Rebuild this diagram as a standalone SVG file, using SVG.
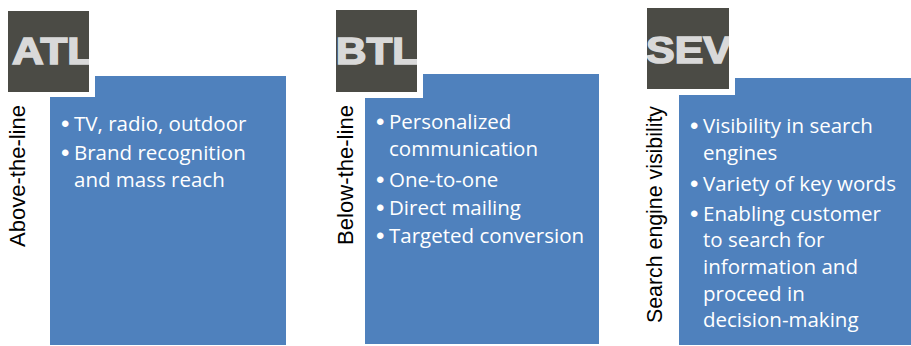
<svg xmlns="http://www.w3.org/2000/svg" width="911" height="346" viewBox="0 0 911 346">
  <style>
    .panel { fill: #4f81bd; }
    .halo { fill: #ffffff; }
    .badge { fill: #4b4b45; }
    .badge-text { font-family: "Liberation Sans", Arial, sans-serif; font-weight: bold; font-size: 37px; fill: #d9d9d9; stroke: #d9d9d9; stroke-width: 1.6px; stroke-linejoin: miter; }
    .side { font-family: "Liberation Sans", Arial, sans-serif; font-size: 21.5px; fill: #000000; text-anchor: end; }
    .item { font-family: "Open Sans", "Noto Sans", sans-serif; font-size: 20.5px; fill: #ffffff; }
    .dot { font-family: "Liberation Sans", Arial, sans-serif; font-size: 24px; fill: #ffffff; }
  </style>
  <defs>
    <clipPath id="clip-atl"><rect x="8" y="11" width="81" height="81"/></clipPath>
    <clipPath id="clip-btl"><rect x="336" y="10" width="81" height="82"/></clipPath>
    <clipPath id="clip-sev"><rect x="647" y="8" width="82" height="81"/></clipPath>
  </defs>

  <rect width="911" height="346" fill="#ffffff"/>

  <!-- Above-the-line -->
  <g id="atl">
    <rect class="panel" x="50" y="76" width="236" height="269"/>
    <rect class="halo" x="2" y="5" width="93" height="92"/>
    <rect class="badge" x="8" y="11" width="81" height="81"/>
    <text class="badge-text" x="12" y="64" textLength="82" lengthAdjust="spacingAndGlyphs" clip-path="url(#clip-atl)">ATL</text>
    <text class="side" transform="translate(25,105) rotate(-90)" textLength="142" lengthAdjust="spacingAndGlyphs">Above-the-line</text>
    <text class="dot" x="61" y="132">•</text>
    <text class="item" x="74" y="131">TV, radio, outdoor</text>
    <text class="dot" x="61" y="161">•</text>
    <text class="item" x="74" y="160">Brand recognition</text>
    <text class="item" x="74" y="187">and mass reach</text>
  </g>

  <!-- Below-the-line -->
  <g id="btl">
    <rect class="panel" x="365" y="74" width="234" height="270"/>
    <rect class="halo" x="330" y="4" width="93" height="94"/>
    <rect class="badge" x="336" y="10" width="81" height="82"/>
    <text class="badge-text" x="336" y="64" textLength="82" lengthAdjust="spacingAndGlyphs" clip-path="url(#clip-btl)">BTL</text>
    <text class="side" transform="translate(353,105) rotate(-90)" textLength="140" lengthAdjust="spacingAndGlyphs">Below-the-line</text>
    <text class="dot" x="376" y="130">•</text>
    <text class="item" x="389" y="129">Personalized</text>
    <text class="item" x="389" y="156">communication</text>
    <text class="dot" x="376" y="188">•</text>
    <text class="item" x="389" y="187">One-to-one</text>
    <text class="dot" x="376" y="216">•</text>
    <text class="item" x="389" y="215">Direct mailing</text>
    <text class="dot" x="376" y="244">•</text>
    <text class="item" x="389" y="243">Targeted conversion</text>
  </g>

  <!-- Search engine visibility -->
  <g id="sev">
    <rect class="panel" x="679" y="78" width="240" height="267"/>
    <rect class="halo" x="641" y="2" width="94" height="93"/>
    <rect class="badge" x="647" y="8" width="82" height="81"/>
    <text class="badge-text" x="646" y="63" textLength="86" lengthAdjust="spacingAndGlyphs" clip-path="url(#clip-sev)">SEV</text>
    <text class="side" transform="translate(662,106) rotate(-90)" textLength="217" lengthAdjust="spacingAndGlyphs">Search engine visibility</text>
    <text class="dot" x="690" y="134">•</text>
    <text class="item" x="703" y="133">Visibility in search</text>
    <text class="item" x="703" y="160">engines</text>
    <text class="dot" x="690" y="192">•</text>
    <text class="item" x="703" y="191">Variety of key words</text>
    <text class="dot" x="690" y="222">•</text>
    <text class="item" x="703" y="221">Enabling customer</text>
    <text class="item" x="703" y="247">to search for</text>
    <text class="item" x="703" y="274">information and</text>
    <text class="item" x="703" y="301">proceed in</text>
    <text class="item" x="703" y="327">decision-making</text>
  </g>

  <g id="connectors"/>
</svg>
